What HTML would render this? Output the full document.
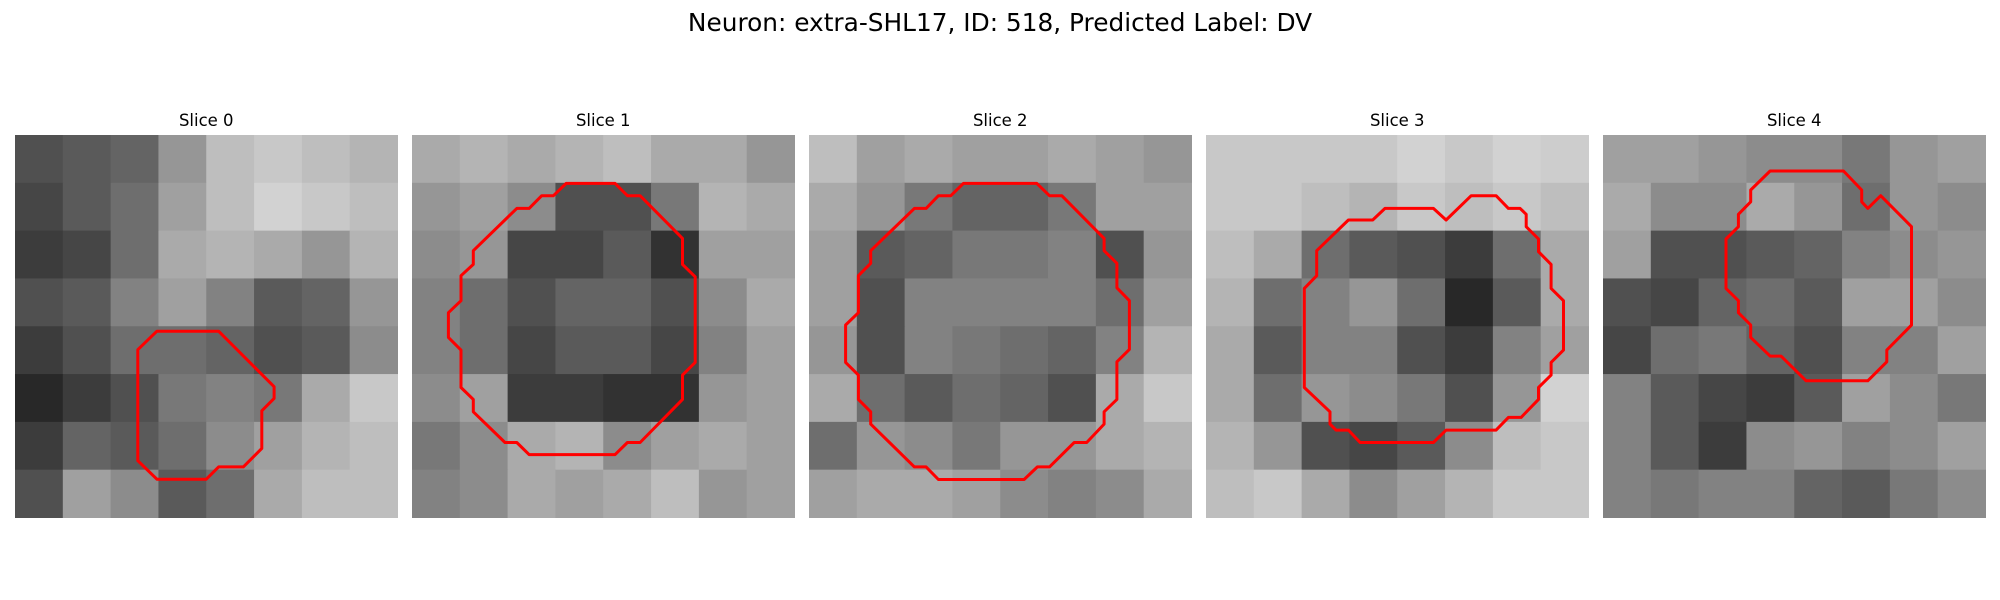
<!DOCTYPE html>
<html><head><meta charset="utf-8"><style>
html,body{margin:0;padding:0;background:#fff;width:2000px;height:600px;overflow:hidden}
svg text{font-family:"DejaVu Sans","Liberation Sans",sans-serif;fill:#000}
</style></head><body>
<svg id="fig" width="2000" height="600" viewBox="0 0 2000 600" xmlns="http://www.w3.org/2000/svg">
<rect width="2000" height="600" fill="#fff"/>
<text x="1000" y="31" font-size="24.8" text-anchor="middle">Neuron: extra-SHL17, ID: 518, Predicted Label: DV</text>
</svg>
<script>
const sliceTitles = ["Slice 0","Slice 1","Slice 2","Slice 3","Slice 4"];
const gridSize = 31;
const img0 = [
[80,90,100,150,190,200,190,180],[70,90,110,160,190,210,200,190],[60,70,110,170,180,170,150,180],[80,90,130,160,130,90,100,150],
[60,80,110,110,100,80,90,140],[40,60,80,120,130,120,170,200],[60,100,90,110,140,160,180,190],[80,160,140,90,110,170,190,190]];
const img1 = [
[170,180,170,180,190,170,170,150],[150,160,140,80,80,120,180,170],[140,150,70,70,90,50,160,160],[130,110,80,100,100,80,140,170],
[130,110,70,90,90,70,130,160],[140,160,60,60,50,50,150,160],[120,140,170,180,140,160,170,160],[130,140,170,160,170,190,150,160]];
const img2 = [
[190,160,170,160,160,170,160,150],[170,150,120,100,100,120,160,160],[160,90,100,120,120,130,80,150],[160,80,130,130,130,130,110,160],
[150,80,130,120,110,100,130,180],[170,110,90,110,100,80,170,200],[110,150,140,120,150,150,170,180],[160,170,170,160,140,130,140,170]];
const img3 = [
[200,200,200,200,210,200,210,205],[200,200,190,180,200,190,200,190],[190,170,110,90,80,60,110,170],[180,110,130,150,110,40,90,170],
[170,90,130,130,80,60,130,160],[170,110,150,140,120,80,150,210],[180,150,80,70,90,140,190,200],[190,200,170,140,160,180,200,200]];
const img4 = [
[160,160,150,140,140,120,150,160],[170,140,140,170,150,110,150,140],[160,80,80,90,100,130,140,150],[80,70,100,110,90,160,160,140],
[70,110,120,100,80,130,130,160],[130,90,70,60,90,160,140,120],[130,90,60,140,150,130,140,160],[130,120,130,130,100,90,120,140]];
const contour0 = [[11.5,15.9],[16.5,15.9],[21,20.4],[21,21.35],[20,22.35],[20,25.4],[18.5,26.9],[16.5,26.9],[15.5,27.9],[11.5,27.9],[9.95,26.4],[9.95,17.4]];
const contour1 = [[12.49,3.92],[16.46,3.92],[17.46,4.92],[18.49,4.92],[21.92,8.38],[21.92,10.49],[22.95,11.49],[22.95,18.43],[21.92,19.46],[21.92,21.43],[18.49,24.92],[17.46,24.92],[16.46,25.9],[9.49,25.9],[8.49,24.92],[7.54,24.92],[4.97,22.43],[4.97,21.43],[3.97,20.46],[3.97,17.43],[2.95,16.4],[2.95,14.4],[3.97,13.43],[3.97,11.4],[4.97,10.49],[4.97,9.38],[8.49,5.95],[9.49,5.95],[10.51,4.92],[11.46,4.92]];
const contour2 = [[12.51,3.92],[18.46,3.92],[19.49,4.92],[20.49,4.92],[23.92,8.38],[23.92,9.38],[24.95,10.4],[24.95,12.38],[25.97,13.43],[25.97,17.38],[24.95,18.38],[24.95,21.43],[23.92,22.43],[23.92,23.43],[22.51,24.92],[21.49,24.92],[19.49,26.9],[18.51,26.9],[17.43,27.92],[10.49,27.92],[9.49,26.9],[8.54,26.9],[5.0,23.43],[5.0,22.43],[4.0,21.43],[4.0,19.46],[2.97,18.43],[2.97,15.4],[4.0,14.4],[4.0,11.4],[5.0,10.4],[5.0,9.38],[8.54,5.95],[9.49,5.95],[10.49,4.92],[11.49,4.92]];
const contour3 = [[14.51,5.95],[18.43,5.95],[19.46,6.89],[21.49,4.92],[23.51,4.92],[24.51,5.95],[25.46,5.95],[25.95,6.43],[25.95,7.43],[26.95,8.43],[26.95,9.46],[27.97,10.49],[27.97,12.43],[28.97,13.43],[28.97,17.43],[27.97,18.43],[27.97,19.46],[26.95,20.46],[26.95,21.43],[25.54,22.89],[24.51,22.89],[23.51,23.92],[19.46,23.92],[18.43,24.92],[12.49,24.92],[11.54,23.92],[10.54,23.92],[10.05,23.43],[10.05,22.43],[7.97,20.46],[7.97,12.43],[8.97,11.4],[8.97,9.38],[11.54,6.89],[13.51,6.89]];
const contour4 = [[13.54,2.92],[19.49,2.92],[20.97,4.46],[20.97,5.41],[21.46,5.95],[22.51,4.92],[25.0,7.43],[25.0,15.41],[23.0,17.43],[23.0,18.38],[21.46,19.92],[16.46,19.92],[14.43,17.92],[13.54,17.92],[11.97,16.4],[11.97,15.4],[10.97,14.4],[10.97,13.43],[9.97,12.43],[9.97,8.43],[10.97,7.43],[10.97,6.43],[11.97,5.41],[11.97,4.46]];
const images=[img0,img1,img2,img3,img4];
const contours=[contour0,contour1,contour2,contour3,contour4];

const NS="http://www.w3.org/2000/svg";
const svg=document.getElementById('fig');
const panelX0=15, panelStep=397, panelY=135, panelW=382.5;
function sx(p,v){return panelX0+p*panelStep+v/gridSize*panelW;}
function sy(v){return panelY+v/gridSize*panelW;}
images.forEach((im,p)=>{
  const g=document.createElementNS(NS,'g');
  
  
  svg.appendChild(g);
  const t=document.createElementNS(NS,'text');
  
  
  t.setAttribute('x',sx(p,gridSize/2));t.setAttribute('y',126);
  t.setAttribute('font-size','16.5');t.setAttribute('text-anchor','middle');
  t.textContent=sliceTitles[p];g.appendChild(t);
  const n=im.length;
  for(let r=0;r<n;r++)for(let c=0;c<im[r].length;c++){
    const v=im[r][c];
    const rect=document.createElementNS(NS,'rect');
    
    
    const x0=sx(p,c*gridSize/n), x1=sx(p,(c+1)*gridSize/n), y0=sy(r*gridSize/n), y1=sy((r+1)*gridSize/n);
    rect.setAttribute('x',x0);rect.setAttribute('y',y0);
    rect.setAttribute('width',x1-x0+0.5);rect.setAttribute('height',y1-y0+0.5);
    rect.setAttribute('fill',`rgb(${v},${v},${v})`);
    g.appendChild(rect);
  }
  const poly=document.createElementNS(NS,'polygon');
  
  
  poly.setAttribute('points',contours[p].map(q=>sx(p,q[0]).toFixed(1)+','+sy(q[1]).toFixed(1)).join(' '));
  poly.setAttribute('fill','none');poly.setAttribute('stroke','#ff0000');
  poly.setAttribute('stroke-width','3');poly.setAttribute('stroke-linejoin','round');
  g.appendChild(poly);
});
</script>
</body></html>
